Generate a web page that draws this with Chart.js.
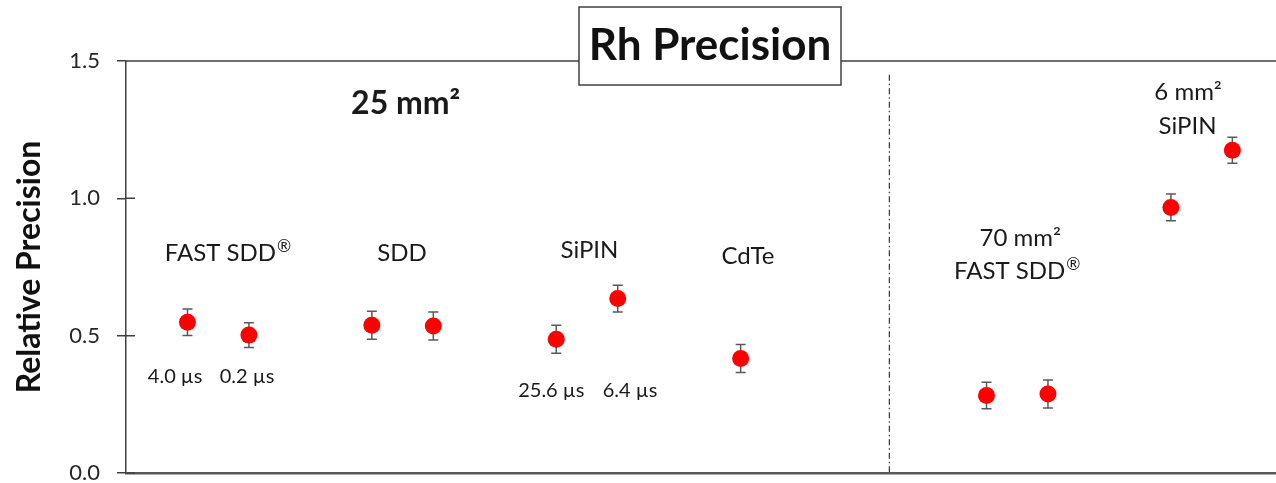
<!DOCTYPE html>
<html>
<head>
<meta charset="utf-8">
<title>Rh Precision</title>
<script src="https://cdn.jsdelivr.net/npm/chart.js@4.4.0/dist/chart.umd.min.js"></script>
<style>
  html, body { margin: 0; padding: 0; background: #fff; }
  #wrap { width: 1276px; height: 483px; position: relative; }
</style>
</head>
<body>
<div id="wrap"><canvas id="rhChart"></canvas></div>
<script>
// slot of each detector / shaping time along the x axis
const slots = [1, 2, 4, 5, 7, 8, 10, 14, 15, 17, 18];
const precision = [0.549, 0.502, 0.538, 0.535, 0.487, 0.635, 0.417, 0.282, 0.288, 0.967, 1.175];
const precisionErr = [0.048, 0.045, 0.051, 0.051, 0.051, 0.049, 0.051, 0.048, 0.051, 0.049, 0.047];
const yTicks = [0, 0.5, 1.0, 1.5];
const dividerSlot = 12.42;

// text labels placed in data units: [text, superscript, slot, value, size, bold]
const notes = [
  ['25 mm\u00b2', '', 4.55, 1.345, 32, true],
  ['FAST SDD', '\u00ae', 1.66, 0.80, 24, false],
  ['SDD', '', 4.49, 0.80, 24, false],
  ['SiPIN', '', 7.54, 0.81, 24, false],
  ['CdTe', '', 10.12, 0.79, 24, false],
  ['70 mm\u00b2', '', 14.55, 0.853, 24, false],
  ['FAST SDD', '\u00ae', 14.5, 0.733, 24, false],
  ['6 mm\u00b2', '', 17.28, 1.385, 24, false],
  ['SiPIN', '', 17.27, 1.261, 24, false],
  ['4.0 \u00b5s', '', 0.80, 0.35, 20, false],
  ['0.2 \u00b5s', '', 1.97, 0.35, 20, false],
  ['25.6 \u00b5s', '', 6.92, 0.299, 20, false],
  ['6.4 \u00b5s', '', 8.20, 0.299, 20, false]
];

const FONT = 'Lato, "Open Sans", sans-serif';
const AXIS = '#404040';

const decorations = {
  id: 'decorations',
  beforeDatasetsDraw(chart) {
    const {ctx, scales: {x, y}} = chart;
    ctx.save();
    ctx.strokeStyle = '#595959';
    ctx.lineWidth = 1.5;
    slots.forEach((s, i) => {
      const px = x.getPixelForValue(s);
      const hi = y.getPixelForValue(precision[i] + precisionErr[i]);
      const lo = y.getPixelForValue(precision[i] - precisionErr[i]);
      ctx.beginPath();
      ctx.moveTo(px, hi); ctx.lineTo(px, lo);
      ctx.moveTo(px - 5, hi); ctx.lineTo(px + 5, hi);
      ctx.moveTo(px - 5, lo); ctx.lineTo(px + 5, lo);
      ctx.stroke();
    });
    ctx.restore();
  },
  afterDraw(chart) {
    const {ctx, chartArea: area, scales: {x, y}} = chart;
    ctx.save();

    // frame line along the top, inner half of the y tick marks
    ctx.strokeStyle = AXIS;
    ctx.lineWidth = 1.5;
    ctx.beginPath();
    ctx.moveTo(area.left, area.top);
    ctx.lineTo(area.right, area.top);
    yTicks.forEach(v => {
      const py = y.getPixelForValue(v);
      ctx.moveTo(area.left, py);
      ctx.lineTo(area.left + 9, py);
    });
    ctx.stroke();

    // dash-dot divider between the 25 mm2 group and the others
    const dx = x.getPixelForValue(dividerSlot);
    ctx.setLineDash([6, 3, 1.5, 3]);
    ctx.strokeStyle = '#404040';
    ctx.lineWidth = 1.3;
    ctx.beginPath();
    ctx.moveTo(dx, y.getPixelForValue(1.45));
    ctx.lineTo(dx, area.bottom);
    ctx.stroke();
    ctx.setLineDash([]);

    // annotations
    ctx.fillStyle = '#1a1a1a';
    ctx.textBaseline = 'middle';
    ctx.textAlign = 'left';
    notes.forEach(([text, sup, s, v, size, bold]) => {
      const mainFont = (bold ? 'bold ' : '') + size + 'px ' + FONT;
      const supFont = Math.round(size * 0.72) + 'px ' + FONT;
      ctx.font = mainFont;
      const w1 = ctx.measureText(text).width;
      ctx.font = supFont;
      const w2 = sup ? ctx.measureText(sup).width + 1 : 0;
      const px = x.getPixelForValue(s) - (w1 + w2) / 2;
      const py = y.getPixelForValue(v);
      ctx.font = mainFont;
      ctx.fillText(text, px, py);
      if (sup) {
        ctx.font = supFont;
        ctx.fillText(sup, px + w1 + 1, py - size * 0.3);
      }
    });

    // boxed title over the top frame line
    const cx = (area.left + area.right) / 2 + 9;
    ctx.font = 'bold 44px ' + FONT;
    const bw = 262, bh = 78;
    ctx.fillStyle = '#fff';
    ctx.fillRect(cx - bw / 2, 7, bw, bh);
    ctx.strokeStyle = AXIS;
    ctx.lineWidth = 1.5;
    ctx.strokeRect(cx - bw / 2, 7, bw, bh);
    ctx.fillStyle = '#111';
    ctx.textAlign = 'center';
    ctx.fillText('Rh Precision', cx, 46);
    ctx.restore();
  }
};

new Chart(document.getElementById('rhChart'), {
  type: 'scatter',
  data: {
    datasets: [{
      label: 'Relative Precision',
      data: slots.map((s, i) => ({x: s, y: precision[i]})),
      backgroundColor: '#ff0000',
      borderWidth: 0,
      pointRadius: 8.5,
      pointHoverRadius: 8.5
    }]
  },
  options: {
    responsive: true,
    maintainAspectRatio: false,
    animation: false,
    layout: { autoPadding: false, padding: { top: 61, right: 0, bottom: 0, left: 0 } },
    plugins: {
      legend: { display: false },
      tooltip: { enabled: false }
    },
    scales: {
      x: {
        type: 'linear',
        min: 0,
        max: 18.71,
        ticks: { display: false },
        grid: { display: false },
        border: { display: true, color: '#595959', width: 2.5 },
        afterFit(scale) { scale.height = 10; }
      },
      y: {
        min: 0,
        max: 1.5,
        afterBuildTicks(scale) { scale.ticks = yTicks.map(v => ({value: v})); },
        ticks: {
          padding: 17,
          color: '#262626',
          font: { family: FONT, size: 22 },
          callback: v => Number(v).toFixed(1)
        },
        grid: { drawOnChartArea: false, drawTicks: true, tickLength: 9, color: AXIS, lineWidth: 1.5 },
        border: { display: true, color: AXIS, width: 1.5 },
        title: {
          display: true,
          text: 'Relative Precision',
          color: '#111',
          font: { family: FONT, size: 32, weight: 'bold' },
          padding: { top: 10, bottom: 0 }
        },
        afterFit(scale) {
          scale.width = 126;
          // the tick padding would otherwise push the plot up from the bottom edge
          scale.paddingTop = 0;
          scale.paddingBottom = 0;
        }
      }
    }
  },
  plugins: [decorations]
});
</script>
</body>
</html>
